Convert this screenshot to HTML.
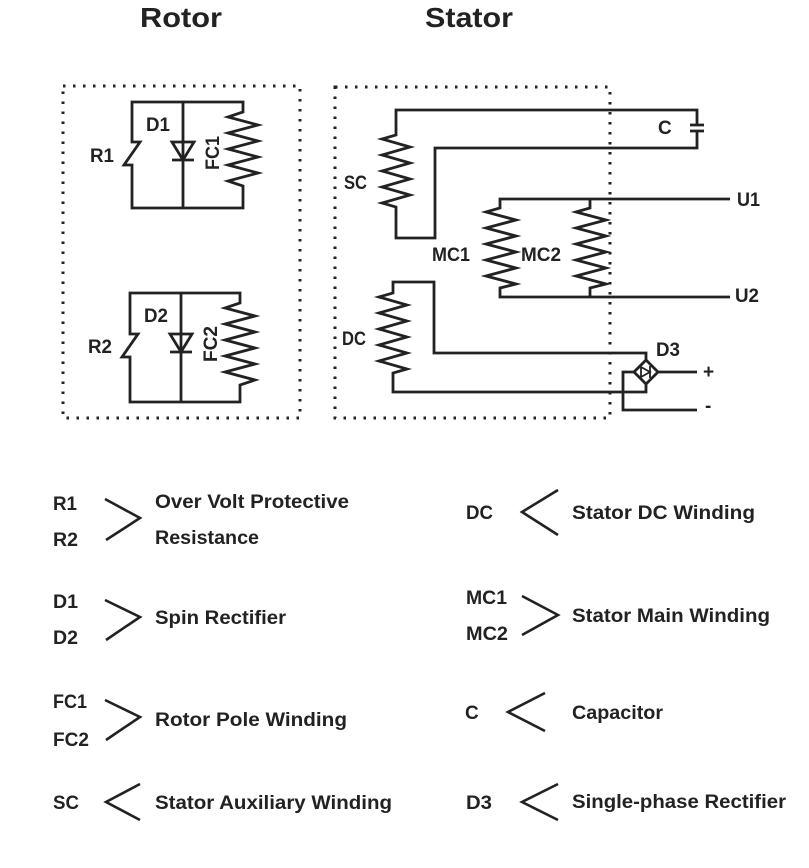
<!DOCTYPE html>
<html><head><meta charset="utf-8"><style>
html,body{margin:0;padding:0;background:#fff;}
svg{display:block;}
text{font-family:"Liberation Sans",sans-serif;fill:#222;font-size:19px;font-weight:bold;}
</style></head><body>
<svg width="809" height="868" viewBox="0 0 809 868" xmlns="http://www.w3.org/2000/svg">
<text x="140" y="27" style="font-size:28px" textLength="82" lengthAdjust="spacingAndGlyphs">Rotor</text>
<text x="425" y="27" style="font-size:28px" textLength="88" lengthAdjust="spacingAndGlyphs">Stator</text>

<g fill="none" stroke="#222" stroke-width="3" stroke-dasharray="2.5 7.5">
<rect x="63" y="86" width="237" height="332"/>
<rect x="335" y="87" width="275" height="331"/>
</g>

<g fill="none" stroke="#222" stroke-width="2.8" stroke-linejoin="miter">
<path d="M132 102 H243 V112 L228 117 L258 125 L228 133 L258 141 L228 149 L258 157 L228 165 L258 173 L228 181 L243 186 V208 H132 V165 H124 L140 142 H132 Z"/>
<path d="M183 102 V208"/>
<path d="M172 142 H194 L183 160 Z M172 160 H194"/>
<path d="M130 293 H240 V303 L225 308 L255 316 L225 324 L255 332 L225 340 L255 348 L225 356 L255 364 L225 372 L255 380 L240 385 V402 H130 V357 H122 L138 334 H130 Z"/>
<path d="M181 293 V402"/>
<path d="M170 334 H192 L181 352 Z M170 352 H192"/>

<path d="M697 125 V110 H396 V135 L382 139 L410 147 L382 155 L410 163 L382 171 L410 179 L382 187 L410 195 L382 203 L396 207 V238 H435 V148 H697 V131"/>
<path d="M690 125 H704 M690 131 H704"/>
<path d="M730 199 H500 V208 L486 212 L516 220 L486 228 L516 236 L486 244 L516 252 L486 260 L516 268 L486 276 L516 284 L500 288 V297 H730"/>
<path d="M590 199 V208 L576 212 L606 220 L576 228 L606 236 L576 244 L606 252 L576 260 L606 268 L576 276 L606 284 L590 288 V297"/>
<path d="M646 360 V353 H434 V282 H393 V293 L379 297 L407 305 L379 313 L407 321 L379 329 L407 337 L379 345 L407 353 L379 361 L407 369 L393 373 V392 H646 V384"/>
<path d="M646 360 L658 372 L646 384 L634 372 Z"/>
<path d="M658 372 H697 M634 372 H623 V410 H697"/>
<path d="M641 367 L650 372 L641 377 Z M650 366 V378" stroke-width="1.8"/>
</g>

<g>
<text x="146" y="131" textLength="24" lengthAdjust="spacingAndGlyphs">D1</text>
<text x="90" y="162" textLength="24" lengthAdjust="spacingAndGlyphs">R1</text>
<text x="0" y="0" transform="translate(219,170) rotate(-90)" textLength="34" lengthAdjust="spacingAndGlyphs">FC1</text>
<text x="144" y="322" textLength="24" lengthAdjust="spacingAndGlyphs">D2</text>
<text x="88" y="353" textLength="24" lengthAdjust="spacingAndGlyphs">R2</text>
<text x="0" y="0" transform="translate(217,362) rotate(-90)" textLength="36" lengthAdjust="spacingAndGlyphs">FC2</text>
<text x="344" y="189" textLength="23" lengthAdjust="spacingAndGlyphs">SC</text>
<text x="432" y="261" textLength="38" lengthAdjust="spacingAndGlyphs">MC1</text>
<text x="521" y="261" textLength="40" lengthAdjust="spacingAndGlyphs">MC2</text>
<text x="342" y="345" textLength="24" lengthAdjust="spacingAndGlyphs">DC</text>
<text x="658" y="134">C</text>
<text x="737" y="206" textLength="23" lengthAdjust="spacingAndGlyphs">U1</text>
<text x="735" y="302" textLength="24" lengthAdjust="spacingAndGlyphs">U2</text>
<text x="656" y="356" textLength="24" lengthAdjust="spacingAndGlyphs">D3</text>
<text x="703" y="378">+</text>
<text x="705" y="412">-</text>
</g>

<g fill="none" stroke="#222" stroke-width="2.6">
<path d="M105 499 L140 518 L106 540"/>
<path d="M105 600 L140 617 L106 640"/>
<path d="M105 700 L140 717 L106 740"/>
<path d="M140 784 L106 802 L140 820"/>
<path d="M558 490 L522 512 L558 535"/>
<path d="M522 596 L558 615 L522 635"/>
<path d="M545 693 L508 712 L545 731"/>
<path d="M558 784 L522 802 L558 820"/>
</g>

<g>
<text x="53" y="510" textLength="24" lengthAdjust="spacingAndGlyphs">R1</text>
<text x="53" y="546" textLength="25" lengthAdjust="spacingAndGlyphs">R2</text>
<text x="155" y="508" textLength="194" lengthAdjust="spacingAndGlyphs">Over  Volt Protective</text>
<text x="155" y="544" textLength="104" lengthAdjust="spacingAndGlyphs">Resistance</text>
<text x="53" y="608" textLength="25" lengthAdjust="spacingAndGlyphs">D1</text>
<text x="53" y="644" textLength="25" lengthAdjust="spacingAndGlyphs">D2</text>
<text x="155" y="624" textLength="131" lengthAdjust="spacingAndGlyphs">Spin Rectifier</text>
<text x="53" y="708" textLength="34" lengthAdjust="spacingAndGlyphs">FC1</text>
<text x="53" y="746" textLength="36" lengthAdjust="spacingAndGlyphs">FC2</text>
<text x="155" y="726" textLength="192" lengthAdjust="spacingAndGlyphs">Rotor Pole Winding</text>
<text x="53" y="809" textLength="26" lengthAdjust="spacingAndGlyphs">SC</text>
<text x="155" y="809" textLength="237" lengthAdjust="spacingAndGlyphs">Stator Auxiliary Winding</text>

<text x="466" y="519" textLength="27" lengthAdjust="spacingAndGlyphs">DC</text>
<text x="572" y="519" textLength="183" lengthAdjust="spacingAndGlyphs">Stator DC  Winding</text>
<text x="466" y="604" textLength="41" lengthAdjust="spacingAndGlyphs">MC1</text>
<text x="466" y="640" textLength="42" lengthAdjust="spacingAndGlyphs">MC2</text>
<text x="572" y="622" textLength="198" lengthAdjust="spacingAndGlyphs">Stator Main Winding</text>
<text x="465" y="719">C</text>
<text x="572" y="719" textLength="91" lengthAdjust="spacingAndGlyphs">Capacitor</text>
<text x="466" y="809" textLength="26" lengthAdjust="spacingAndGlyphs">D3</text>
<text x="572" y="808" textLength="214" lengthAdjust="spacingAndGlyphs">Single-phase Rectifier</text>
</g>
</svg>
</body></html>
